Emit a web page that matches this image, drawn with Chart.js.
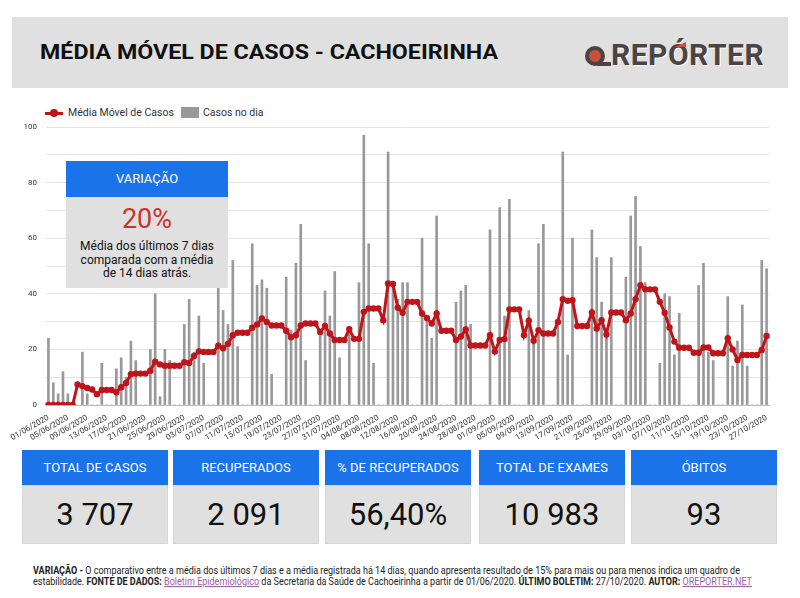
<!DOCTYPE html>
<html lang="pt-BR">
<head>
<meta charset="utf-8">
<title>Média Móvel de Casos - Cachoeirinha</title>
<script src="https://cdn.jsdelivr.net/npm/chart.js@4.4.1/dist/chart.umd.min.js"></script>
<style>
  body { margin: 0; width: 800px; height: 598px; background: #fff; font-family: Roboto, "Noto Sans", sans-serif; position: relative; overflow: hidden; }
  .abs { position: absolute; }
  #header { left: 12px; top: 17px; width: 776px; height: 71px; background: #e0e0e0; }
  #title { left: 40px; top: 40px; font-size: 21px; font-weight: 700; color: #111; white-space: nowrap; transform-origin: 0 0; display: inline-block; }
  #logo { left: 585px; top: 41px; height: 30px; }
  .q { left: 0; top: 5px; width: 12px; height: 12px; border: 4px solid #4a4445; border-radius: 50%; background: #c9503c; }
  .qtail { left: 12px; top: 21px; width: 14px; height: 4px; background: #4a4445; }
  .rep { left: 26px; top: -4px; font-size: 30px; font-weight: 700; color: #4a4445; letter-spacing: 0.5px; white-space: nowrap; text-shadow: 1px 1px 0 #fff; }
  .acc { left: 90px; top: 1px; width: 0; height: 0; border-left: 11px solid transparent; border-bottom: 5px solid #d0503a; }
  #legend { left: 45px; top: 106px; font-size: 10.5px; color: #333; }
  #legend .ln { left: 0; top: 6px; width: 18px; height: 3px; background: #c0141b; }
  #legend .dot { left: 5px; top: 3px; width: 8px; height: 8px; border-radius: 50%; background: #c0141b; }
  #legend .t1 { left: 23px; top: 0; white-space: nowrap; }
  #legend .sq { left: 136px; top: 1px; width: 18px; height: 11px; background: #999; }
  #legend .t2 { left: 158px; top: 0; white-space: nowrap; }
  #chart { left: 0; top: 100px; }
  #varia { left: 66px; top: 161px; width: 162px; }
  #varia .hd { height: 36px; background: #1a73e8; color: #fff; font-size: 13px; line-height: 36px; text-align: center; }
  #varia .bd { height: 91px; background: #e0e0e0; text-align: center; color: #111; }
  #varia .pct { font-size: 27px; color: #c8342b; padding-top: 6px; line-height: 32px; }
  #varia .txt { font-size: 12px; line-height: 13.5px; margin-top: 5px; }
  .box { top: 450px; width: 146px; }
  .box .hd { height: 35px; background: #1a73e8; color: #fff; font-size: 13px; line-height: 35px; text-align: center; }
  .box .bd { height: 59px; background: #e0e0e0; color: #111; font-size: 31px; line-height: 59px; text-align: center; box-shadow: inset 0 0 0 1px #d6d6d6; }
  #foot { left: 33px; top: 565px; font-size: 10.5px; line-height: 11px; color: #222; }
  #foot div { white-space: nowrap; transform-origin: 0 0; display: inline-block; }
  #foot a { color: #a45ca4; text-decoration: underline; }
</style>
</head>
<body>
<div id="header" class="abs"></div>
<span id="title" class="abs">MÉDIA MÓVEL DE CASOS - CACHOEIRINHA</span>
<div id="logo" class="abs">
  <div class="abs q"></div>
  <div class="abs qtail"></div>
  <div class="abs rep">REPÓRTER</div>
  <div class="abs acc"></div>
</div>

<div id="legend" class="abs">
  <div class="abs ln"></div><div class="abs dot"></div>
  <div class="abs t1">Média Móvel de Casos</div>
  <div class="abs sq"></div>
  <div class="abs t2">Casos no dia</div>
</div>

<canvas id="chart" class="abs" width="800" height="345"></canvas>

<div id="varia" class="abs">
  <div class="hd">VARIAÇÃO</div>
  <div class="bd">
    <div class="pct">20%</div>
    <div class="txt">Média dos últimos 7 dias<br>comparada com a média<br>de 14 dias atrás.</div>
  </div>
</div>

<div id="boxes"></div>

<div id="foot" class="abs">
  <div id="f1"><b>VARIAÇÃO -</b> O comparativo entre a média dos últimos 7 dias e a média registrada há 14 dias, quando apresenta resultado de 15% para mais ou para menos indica um quadro de</div><br>
  <div id="f2">estabilidade. <b>FONTE DE DADOS:</b> <a href="#">Boletim Epidemiológico</a> da Secretaria da Saúde de Cachoeirinha a partir de 01/06/2020. <b>ÚLTIMO BOLETIM:</b> 27/10/2020. <b>AUTOR:</b> <a href="#">OREPORTER.NET</a></div>
</div>

<script>
// Dados

const startDate = new Date(2020, 5, 1)
const numDays = 149
const dias = []
for (let i = 0; i < numDays; i++) {
  const d = new Date(startDate.getFullYear(), startDate.getMonth(), startDate.getDate() + i)
  dias.push(String(d.getDate()).padStart(2, "0") + "/" + String(d.getMonth() + 1).padStart(2, "0") + "/" + d.getFullYear())
}

const casosNoDia = [
  24, 8, 4, 12, 4, 0, 0, 19, 4, 0, 0, 15, 0, 0, 13, 17, 10, 23, 16, 0,
  0, 20, 40, 3, 20, 16, 0, 0, 29, 38, 19, 32, 15, 0, 0, 42, 34, 29, 52, 21,
  0, 0, 58, 43, 45, 42, 11, 0, 0, 46, 27, 51, 65, 16, 0, 0, 26, 41, 32, 48,
  17, 0, 27, 0, 44, 97, 58, 15, 0, 0, 91, 43, 38, 44, 44, 0, 0, 60, 32, 24,
  68, 0, 0, 0, 37, 41, 43, 29, 0, 0, 0, 63, 0, 71, 32, 74, 0, 0, 0, 34,
  22, 58, 65, 0, 0, 30, 91, 18, 60, 0, 0, 0, 63, 53, 37, 25, 53, 0, 0, 46,
  68, 75, 57, 44, 0, 0, 15, 40, 39, 18, 33, 0, 0, 0, 43, 51, 19, 16, 0, 0,
  39, 14, 23, 36, 14, 0, 0, 52, 49
]

const mediaMovel = [
  0, 0, 0, 0, 0, 0, 7.4, 6.8, 6.1, 5.6, 3.9, 5.4, 5.4, 5.4, 4.6, 6.4, 7.9, 11.1, 11.3, 11.3,
  11.3, 12.3, 15.6, 14.6, 14.1, 14.1, 14.1, 14.1, 15.4, 15.1, 17.6, 19.3, 19.1, 19.1, 19.1, 21.3, 20.4, 22.0, 25.1, 26.0,
  26.0, 26.0, 27.8, 29.0, 31.1, 29.9, 28.6, 28.6, 28.6, 26.7, 24.4, 25.1, 28.6, 29.3, 29.3, 29.3, 26.3, 28.4, 25.7, 23.4,
  23.4, 23.4, 27.3, 23.8, 23.8, 33.5, 34.7, 34.7, 34.7, 30.5, 43.7, 43.5, 35.0, 33.2, 37.1, 37.1, 37.1, 32.9, 31.3, 29.3,
  32.9, 26.7, 26.7, 26.7, 23.4, 24.6, 27.2, 21.4, 21.4, 21.4, 21.4, 25.1, 19.2, 23.4, 23.7, 34.4, 34.4, 34.4, 25.1, 30.3,
  23.1, 26.9, 25.7, 25.7, 25.7, 29.9, 38.1, 37.5, 37.7, 28.4, 28.4, 28.4, 33.3, 27.5, 30.5, 25.4, 33.3, 33.3, 33.3, 30.5,
  32.9, 38.1, 43.1, 41.6, 41.6, 41.6, 37.1, 33.2, 27.9, 22.8, 20.6, 20.6, 20.6, 18.8, 18.8, 20.7, 20.7, 18.6, 18.6, 18.6,
  24.0, 20.0, 16.2, 18.0, 18.0, 18.0, 18.0, 19.8, 24.8
]

const yTicks = [0, 20, 40, 60, 80, 100]

const totalLabels = ["TOTAL DE CASOS", "RECUPERADOS", "% DE RECUPERADOS", "TOTAL DE EXAMES", "ÓBITOS"]
const totalValues = ["3 707", "2 091", "56,40%", "10 983", "93"]

// Caixas de totais

const boxLefts = [22, 173, 325, 479, 631]
const boxes = document.getElementById("boxes")
totalLabels.forEach((lbl, i) => {
  const b = document.createElement("div")
  b.className = "abs box"
  b.style.left = boxLefts[i] + "px"
  b.innerHTML = '<div class="hd">' + lbl + '</div><div class="bd">' + totalValues[i] + '</div>'
  boxes.appendChild(b)
})

// Ajuste de largura dos textos

function fitWidth(el, w) {
  const s = w / el.getBoundingClientRect().width
  el.style.transform = "scaleX(" + s + ")"
}
fitWidth(document.getElementById("title"), 458)
fitWidth(document.getElementById("f1"), 707)
fitWidth(document.getElementById("f2"), 719)

// Grafico

const ctx = document.getElementById("chart")

new Chart(ctx, {
  type: "bar",
  data: {
    labels: dias,
    datasets: [
      {
        type: "line",
        label: "Média Móvel de Casos",
        data: mediaMovel,
        borderColor: "#c0141b",
        backgroundColor: "#c0141b",
        borderWidth: 3,
        pointRadius: 3.2,
        pointBorderWidth: 0,
        tension: 0,
        order: 0,
      },
      {
        label: "Casos no dia",
        data: casosNoDia,
        backgroundColor: "#999999",
        barThickness: 2,
        order: 1,
      },
    ],
  },
  options: {
    responsive: false,
    animation: false,
    layout: { padding: { top: 27, right: 31, left: 0, bottom: 0 } },
    plugins: { legend: { display: false }, tooltip: { enabled: false } },
    scales: {
      x: {
        grid: { display: false },
        border: { color: "#bbbbbb" },
        afterFit: (scale) => { scale.height = 40 },
        ticks: {
          autoSkip: false,
          minRotation: 30,
          maxRotation: 30,
          color: "#333",
          padding: 0,
          font: { size: 8, family: "Roboto" },
          callback: (v, i) => (i % 4 === 0 ? dias[i] : ""),
        },
      },
      y: {
        min: 0,
        max: 100,
        afterFit: (scale) => { scale.width = 46 },
        border: { display: false },
        grid: { color: "#e4e4e4", drawTicks: false },
        ticks: {
          stepSize: 10,
          padding: 9,
          color: "#333",
          font: { size: 8, family: "Roboto" },
          callback: (v) => (yTicks.includes(v) ? v : ""),
        },
      },
    },
  },
})
</script>
</body>
</html>
